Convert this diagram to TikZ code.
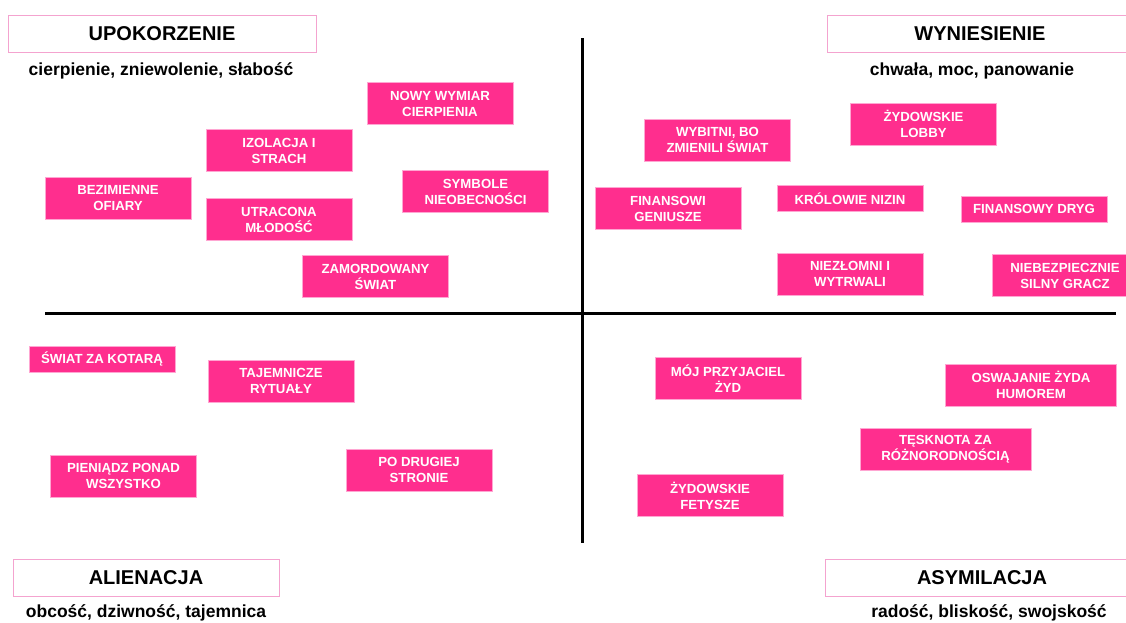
\documentclass[tikz,border=0pt]{standalone}
\usepackage{fontspec}
\setmainfont{Liberation Sans}
\definecolor{boxpink}{HTML}{FF2E8E}
\definecolor{boxedge}{HTML}{FFA6D2}
\definecolor{headedge}{HTML}{F4A3CF}
\begin{document}
\begin{tikzpicture}[x=1pt,y=-1pt,
  pbox/.style={rectangle, fill=boxpink, draw=boxedge, line width=0.8pt,
    minimum width=146pt, minimum height=42pt, inner sep=0pt, align=center,
    text=white, font=\fontsize{13.2}{16}\selectfont\bfseries},
  pone/.style={pbox, minimum height=26pt},
  head/.style={rectangle, draw=headedge, fill=white, line width=1pt, inner sep=0pt,
    minimum height=37pt, font=\fontsize{20}{24}\selectfont\bfseries},
  sub/.style={inner sep=0pt, font=\fontsize{17.5}{20}\selectfont\bfseries},
  axis/.style={line width=3pt, black}]
\clip (0,0) rectangle (1126,622);
\fill[white] (0,0) rectangle (1126,622);
% axes
\coordinate (vt) at (582,38);
\coordinate (vb) at (582,543);
\coordinate (hl) at (45,313);
\coordinate (hr) at (1116,313);
\draw[axis] (vt) -- (vb);
\draw[axis] (hl) -- (hr);
% corner headings
\node[head, minimum width=308pt] (h1) at (162,33.5) {UPOKORZENIE};
\node[sub] (s1) at (161,71) {cierpienie, zniewolenie, słabość};
\node[head, minimum width=306pt] (h2) at (980,33.5) {WYNIESIENIE};
\node[sub] (s2) at (972,71) {chwała, moc, panowanie};
\node[head, minimum width=266pt] (h3) at (146,577.5) {ALIENACJA};
\node[sub] (s3) at (146,613) {obcość, dziwność, tajemnica};
\node[head, minimum width=314pt] (h4) at (982,577.5) {ASYMILACJA};
\node[sub] (s4) at (989,613) {radość, bliskość, swojskość};
% upper left
\node[pbox] (b1) at (440,103.5) {NOWY WYMIAR\\CIERPIENIA};
\node[pbox] (b2) at (279,150.5) {IZOLACJA I\\STRACH};
\node[pbox] (b3) at (118,198.5) {BEZIMIENNE\\OFIARY};
\node[pbox] (b4) at (475.5,191.5) {SYMBOLE\\NIEOBECNOŚCI};
\node[pbox] (b5) at (279,219.5) {UTRACONA\\MŁODOŚĆ};
\node[pbox] (b6) at (375.5,276.5) {ZAMORDOWANY\\ŚWIAT};
% upper right
\node[pbox] (b7) at (717.5,140) {WYBITNI, BO\\ZMIENILI ŚWIAT};
\node[pbox] (b8) at (668,208.5) {FINANSOWI\\GENIUSZE};
\node[pone] (b9) at (850,198.5) {KRÓLOWIE NIZIN};
\node[pbox] (b10) at (923.5,124) {ŻYDOWSKIE\\LOBBY};
\node[pone] (b11) at (1034,209) {FINANSOWY DRYG};
\node[pbox] (b12) at (850,274) {NIEZŁOMNI I\\WYTRWALI};
\node[pbox] (b13) at (1065,275.5) {NIEBEZPIECZNIE\\SILNY GRACZ};
% lower left
\node[pone] (b14) at (102,359) {ŚWIAT ZA KOTARĄ};
\node[pbox] (b15) at (281,381) {TAJEMNICZE\\RYTUAŁY};
\node[pbox] (b16) at (123.5,476) {PIENIĄDZ PONAD\\WSZYSTKO};
\node[pbox] (b17) at (419,470) {PO DRUGIEJ\\STRONIE};
% lower right
\node[pbox] (b18) at (728,378.5) {MÓJ PRZYJACIEL\\ŻYD};
\node[pbox, minimum width=171pt] (b19) at (1031,385) {OSWAJANIE ŻYDA\\HUMOREM};
\node[pbox, minimum width=171pt] (b20) at (945.5,449) {TĘSKNOTA ZA\\RÓŻNORODNOŚCIĄ};
\node[pbox] (b21) at (710,495.5) {ŻYDOWSKIE\\FETYSZE};
\end{tikzpicture}
\end{document}
